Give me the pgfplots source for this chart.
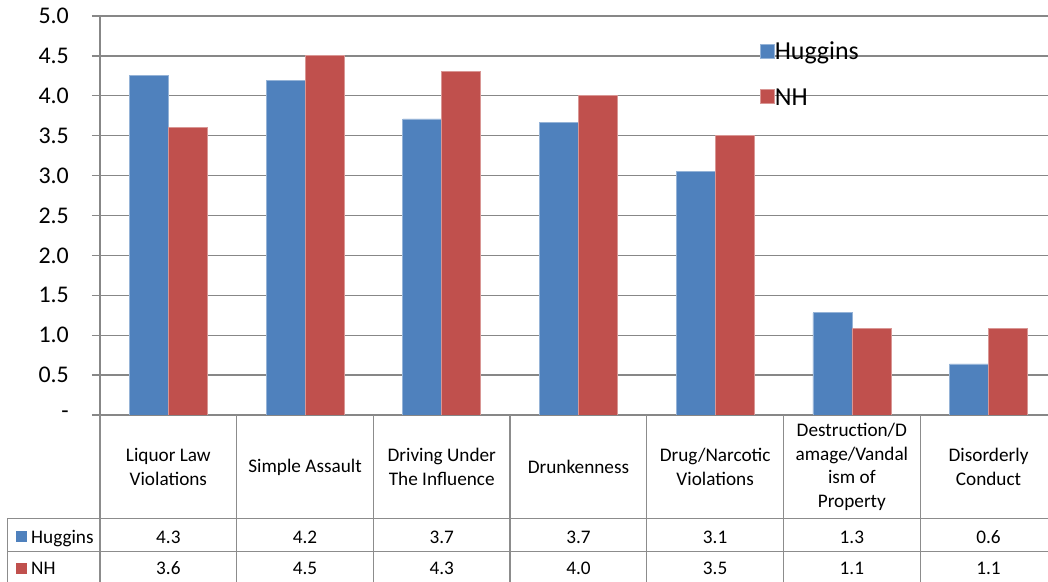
\documentclass[border=0pt]{standalone}
\usepackage{fontspec}
\setmainfont{Carlito}
\usepackage{pgfplots}
\pgfplotsset{compat=1.18}
\definecolor{hugblue}{HTML}{4F81BD}
\definecolor{nhred}{HTML}{C0504D}
\definecolor{gridgray}{HTML}{878787}
\definecolor{tabgray}{HTML}{8C8C8C}
\begin{document}
\begin{tikzpicture}[x=1bp,y=1bp]
\useasboundingbox (0,0) rectangle (1048,582);
\begin{axis}[
    at={(100bp,167bp)}, anchor=south west,
    scale only axis, width=957bp, height=399bp,
    ybar=0pt, bar width=39bp,
    xmin=-0.5, xmax=6.5, ymin=0, ymax=5,
    xtick=\empty,
    ytick={0,0.5,...,5},
    yticklabels={-,0.5,1.0,1.5,2.0,2.5,3.0,3.5,4.0,4.5,5.0},
    yticklabel style={font=\fontsize{24}{28}\selectfont, inner xsep=0pt, xshift=-23bp},
    axis lines*=left,
    tick align=outside, major tick length=8bp,
    ymajorgrids,
    grid style={draw=gridgray, line width=1.3bp},
    axis line style={draw=gridgray, line width=1.3bp},
    tick style={draw=gridgray, line width=1.3bp},
    legend style={draw=none, fill=none, inner sep=0pt,
      at={(0.689,0.933)}, anchor=north west,
      font=\fontsize{26}{30}\selectfont, row sep=23.2bp,
      nodes={inner sep=0pt, text height=17bp, text depth=5bp}},
    legend cell align=left,
    /tikz/every even column/.append style={column sep=12.3bp},
    legend image code/.code={\fill[#1] (0bp,-4.7bp) rectangle (14.4bp,9.7bp);},
]
\addplot[fill=hugblue, draw=hugblue!60!white, line width=0.8bp] coordinates {
    (0,4.26) (1,4.19) (2,3.71) (3,3.67) (4,3.05) (5,1.28) (6,0.64)};
\addplot[fill=nhred, draw=nhred!60!white, line width=0.8bp] coordinates {
    (0,3.60) (1,4.50) (2,4.30) (3,4.00) (4,3.50) (5,1.09) (6,1.09)};
\legend{Huggins, NH}
\end{axis}
% data table below the plot
\begin{scope}[draw=tabgray, line width=1.3bp]
  \foreach \k in {0,...,6} {
    \draw ({100+136.7*\k},167) -- ({100+136.7*\k},-5);
  }
  \draw (7.3,63.7) -- (1060,63.7);
  \draw (7.3,30.3) -- (1060,30.3);
  \draw (7.3,63.7) -- (7.3,-5);
\end{scope}
\begin{scope}[every node/.style={font=\fontsize{19.3}{23.7}\selectfont, align=center, inner sep=0pt}]
  \foreach \lab [count=\i from 0] in {
      {Liquor Law\\Violations},
      {Simple Assault},
      {Driving Under\\The Influence},
      {Drunkenness},
      {Drug/Narcotic\\Violations},
      {Destruction/D\\amage/Vandal\\ism of\\Property},
      {Disorderly\\Conduct}} {
    \node at ({100+136.7*(\i+0.5)},115) {\lab};
  }
  \foreach \v [count=\i from 0] in {4.3,4.2,3.7,3.7,3.1,1.3,0.6} {
    \node[anchor=base] at ({100+136.7*(\i+0.5)},38.7) {\v};
  }
  \foreach \v [count=\i from 0] in {3.6,4.5,4.3,4.0,3.5,1.1,1.1} {
    \node[anchor=base] at ({100+136.7*(\i+0.5)},7) {\v};
  }
  \fill[hugblue] (15.7,40.3) rectangle (26.7,51.3);
  \fill[nhred] (15.7,7.7) rectangle (26.7,18.7);
  \node[anchor=base west] at (31,38.7) {Huggins};
  \node[anchor=base west] at (31,7) {NH};
\end{scope}
\end{tikzpicture}
\end{document}
